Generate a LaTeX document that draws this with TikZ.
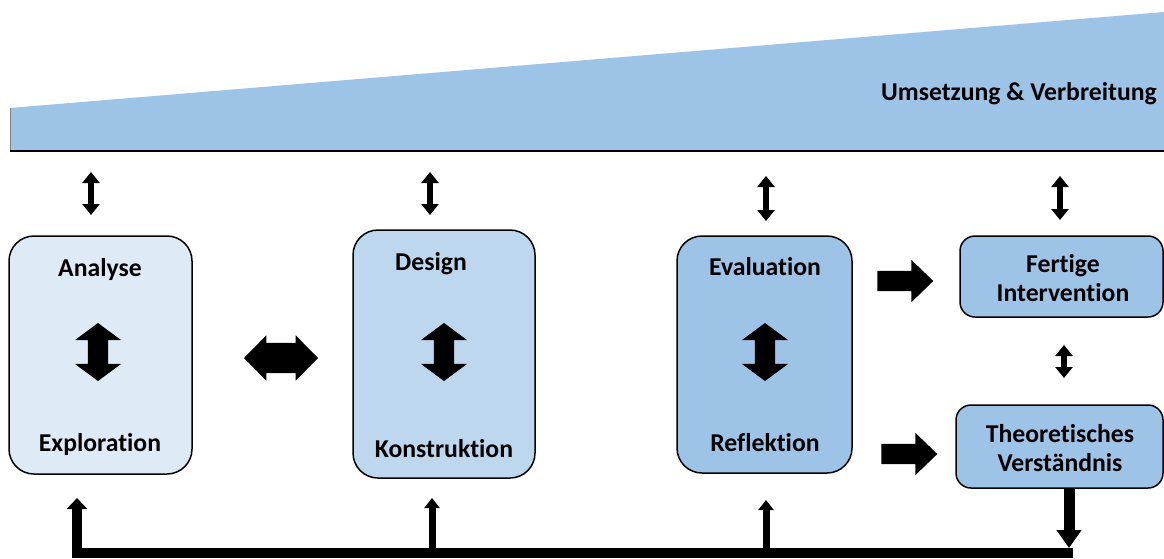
\documentclass[tikz,border=0pt]{standalone}
\usepackage{fontspec}
\setmainfont{Carlito}[Ligatures=NoCommon]
\usepackage{tikz}
\usetikzlibrary{arrows.meta,shapes.arrows,positioning}

\definecolor{paleblue}{HTML}{DEEBF7}
\definecolor{lightblue}{HTML}{BDD7EE}
\definecolor{midblue}{HTML}{9DC3E6}

\tikzset{
  stage/.style={draw=black, line width=1.5pt, rounded corners=25pt, inner sep=0pt},
  result/.style={draw=black, line width=1.5pt, rounded corners=15pt, inner sep=0pt, fill=midblue},
  lbl/.style={font=\fontsize{25.7}{29}\selectfont\bfseries, inner sep=0pt, align=center},
  thin arr/.style={line width=5.5pt, {Triangle[width=17pt,length=11pt]}-{Triangle[width=17pt,length=11pt]}},
  inner arr/.style={double arrow, fill=black, rotate=90, inner xsep=0pt, inner ysep=10pt,
    minimum height=58pt, double arrow head extend=13pt, double arrow tip angle=107},
  block arr/.style={single arrow, fill=black, inner xsep=0pt, inner ysep=10pt,
    minimum height=56pt, single arrow head extend=11pt, single arrow tip angle=88},
  bar line/.style={line width=10pt},
  up arr/.style={line width=7pt, -{Triangle[width=15pt,length=10pt]}},
}

\begin{document}
\begin{tikzpicture}[x=1pt, y=-1pt]
  \useasboundingbox (0,0) rectangle (1164,558);

  % wedge
  \fill[midblue] (10,151) -- (10,108) -- (1164,12) -- (1164,151) -- cycle;
  \draw[gray, line width=0.8pt] (10,108) -- (10,151);
  \draw[black, line width=1.5pt] (10,151) -- (1164,151);
  \coordinate (bandbot) at (0,151);
  \node[lbl, anchor=base east] (umsetzung) at (1157,100) {Umsetzung \& Verbreitung};

  % phases
  \node[stage, fill=paleblue, minimum width=183pt, minimum height=238pt] (analyse) at (100.5,355) {};
  \node[stage, fill=lightblue, minimum width=182pt, minimum height=248pt] (design) at (444,354) {};
  \node[stage, fill=midblue, minimum width=175pt, minimum height=237pt] (eval) at (764.5,354.5) {};
  \node[result, minimum width=203pt, minimum height=81pt] (fertig) at (1061.5,276.5) {};
  \node[result, minimum width=207pt, minimum height=83pt] (theorie) at (1059.5,446.5) {};

  \node[lbl, anchor=base] (analysetxt) at (100,276) {Analyse};
  \node[lbl, anchor=base] (explotxt) at (100,451) {Exploration};
  \node[lbl, anchor=base] (designtxt) at (431,270) {Design};
  \node[lbl, anchor=base] (konstrtxt) at (444,457) {Konstruktion};
  \node[lbl, anchor=base] (evaltxt) at (765,275) {Evaluation};
  \node[lbl, anchor=base] (reflextxt) at (765,451) {Reflektion};
  \node[lbl] (fertigtxt) at (1063,278) {Fertige\\Intervention};
  \node[lbl] (theorietxt) at (1060,448) {Theoretisches\\Verständnis};

  % block arrows
  \node[inner arr] (ae) at (98,352) {};
  \node[inner arr] (dk) at (444,352) {};
  \node[inner arr] (er) at (765,352) {};
  \node[double arrow, fill=black, inner xsep=0pt, inner ysep=15pt, minimum height=74pt,
    double arrow head extend=7.5pt, double arrow tip angle=91] (ad) at (281,358) {};
  \node[block arr] (ef) at (900,281) {};
  \node[block arr] (rt) at (904,454) {};

  % links to the band
  \draw[thin arr] (91,172) -- (91,215);
  \draw[thin arr] (430,172) -- (430,215);
  \draw[thin arr] (766,176) -- (766,221);
  \draw[thin arr] (1060,176) -- (1060,220);
  \draw[thin arr] (1064,345) -- (1064,378);

  % feedback loop
  \coordinate (barL) at (77,553);
  \coordinate (barR) at (1073,553);
  \draw[line width=11pt, -{Triangle[width=24pt,length=18pt]}] (theorie.south -| 1069,0) -- (1069,548);
  \draw[bar line, -{Triangle[width=20pt,length=11pt]}] (barR) -- (barL) -- (77,498);
  \draw[up arr] (432,553) -- (432,498);
  \draw[up arr] (766,553) -- (766,500);
\end{tikzpicture}
\end{document}
